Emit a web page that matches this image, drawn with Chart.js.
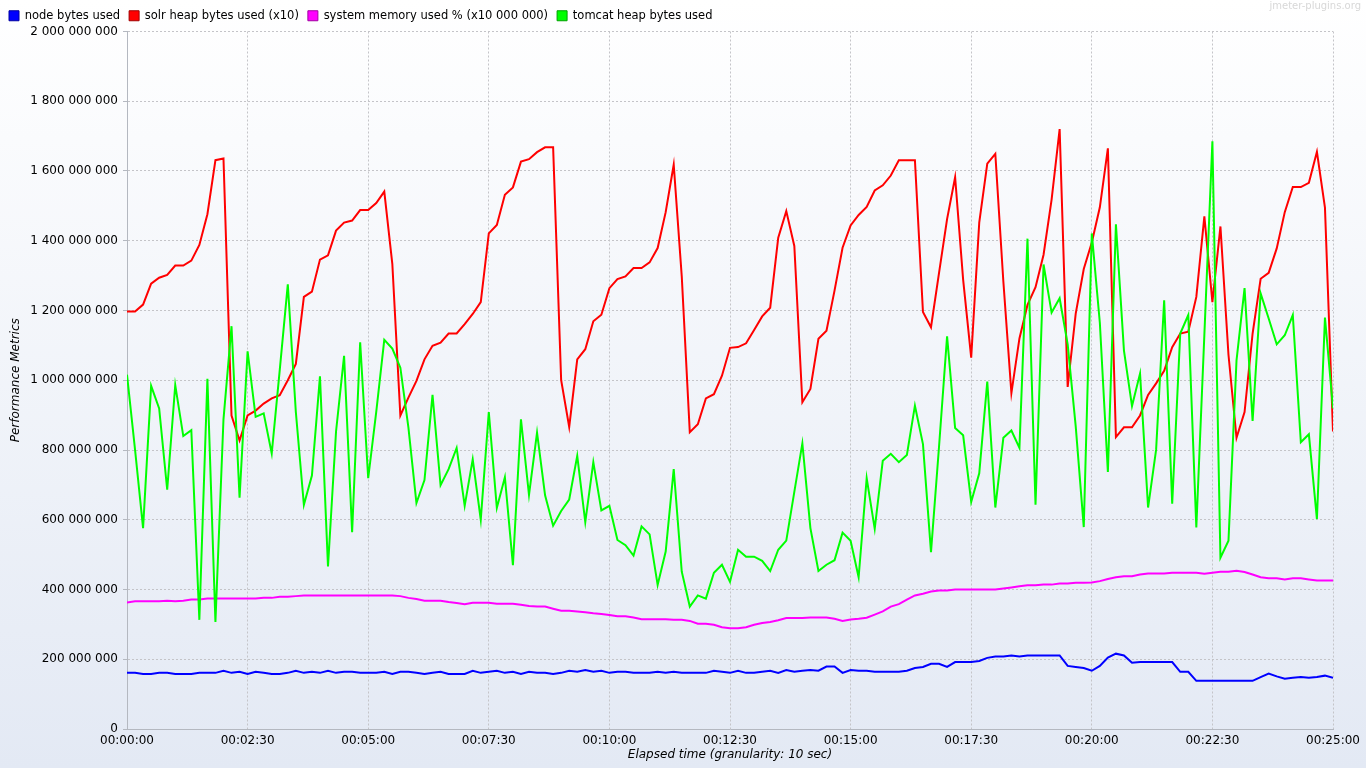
<!DOCTYPE html>
<html>
<head>
<meta charset="utf-8">
<script src="https://cdn.jsdelivr.net/npm/chart.js@4.4.1/dist/chart.umd.min.js"></script>
<style>
  html, body { margin: 0; padding: 0; background: #ffffff; }
  #wrap { width: 1366px; height: 768px; position: relative; }
  canvas { display: block; }
</style>
</head>
<body>
<div id="wrap"><canvas id="c" width="1366" height="768"></canvas></div>
<script>
// ---- DATA (values in millions of bytes; one point every 10 s) ----
const GRANULARITY_SEC = 10;
const VALUE_UNIT = 1000000;

const seriesNames = [
  "node bytes used",
  "solr heap bytes used (x10)",
  "system memory used % (x10 000 000)",
  "tomcat heap bytes used"
];

const nodeBytes = [
  161,161,158,158,161,161,158,158,158,161,161,161,167,161,164,158,164,161,158,158,
  161,167,161,164,161,167,161,164,164,161,161,161,164,158,164,164,161,158,161,164,
  158,158,158,167,161,164,167,161,164,158,164,161,161,158,161,167,164,169,164,167,
  161,164,164,161,161,161,164,161,164,161,161,161,161,167,164,161,167,161,161,164,
  167,161,169,164,167,169,167,179,179,161,169,167,167,164,164,164,164,167,175,178,
  187,187,178,192,192,192,195,204,208,208,211,208,211,211,211,211,211,181,178,175,
  167,181,205,216,211,190,192,192,192,192,192,164,164,138,138,138,138,138,138,138,
  138,149,159,151,144,147,149,147,149,153,147
];

const solrHeap = [
  1197,1197,1217,1277,1294,1302,1329,1329,1343,1388,1476,1631,1636,899,827,899,913,933,948,957,
  1000,1047,1239,1254,1346,1358,1429,1452,1458,1488,1488,1508,1541,1334,899,950,998,1060,1099,1108,
  1134,1134,1161,1190,1224,1421,1445,1532,1553,1627,1634,1654,1668,1668,1000,866,1060,1089,1169,1188,
  1264,1290,1298,1322,1322,1338,1379,1482,1618,1298,851,874,948,960,1013,1093,1095,1106,1144,1183,
  1208,1409,1485,1385,937,975,1119,1142,1257,1380,1444,1474,1497,1544,1559,1587,1631,1631,1631,1196,
  1152,1308,1462,1582,1288,1065,1452,1621,1649,1283,963,1120,1216,1267,1360,1518,1720,981,1191,1319,
  1395,1496,1665,837,865,865,899,958,991,1027,1095,1134,1139,1239,1470,1224,1441,1073,835,909,
  1134,1291,1308,1378,1482,1554,1554,1566,1655,1495,853
];

const systemMem = [
  363,366,366,366,366,368,366,368,371,371,374,374,374,374,374,374,374,376,376,379,
  379,381,383,383,383,383,383,383,383,383,383,383,383,383,381,376,373,368,368,368,
  364,361,358,362,362,362,359,359,359,356,353,351,351,345,339,339,337,335,332,330,
  327,323,323,320,315,315,315,315,313,313,310,302,302,299,292,289,289,292,299,304,
  307,312,318,318,318,320,320,320,316,310,314,316,319,328,337,351,358,371,383,388,
  394,397,397,400,400,400,400,400,400,403,406,409,412,412,414,414,417,417,419,419,
  420,424,430,435,438,438,443,446,446,446,448,448,448,448,445,448,451,451,454,450,
  443,435,432,432,429,432,432,429,426,426,426
];

const tomcatHeap = [
  1016,801,576,984,919,686,986,840,857,313,1004,307,888,1155,663,1083,895,905,790,1030,
  1275,909,643,727,1011,466,853,1070,564,1109,719,909,1116,1091,1036,865,648,714,958,699,
  745,806,640,773,600,909,634,722,470,888,671,850,670,583,625,658,783,593,765,627,
  640,542,527,497,581,558,413,509,745,451,351,383,374,448,471,422,514,494,494,482,
  453,514,540,680,819,576,453,471,484,563,540,435,719,574,769,789,765,786,927,817,
  507,810,1126,863,842,651,733,996,635,835,856,806,1406,643,1332,1194,1235,1103,868,579,
  1421,1165,737,1447,1085,926,1019,635,801,1229,646,1134,1187,578,1130,1685,491,540,1057,1264,
  883,1249,1177,1103,1129,1187,822,845,602,1180,919
];

const seriesColors = ["#0000ff", "#ff0000", "#ff00ff", "#00ff00"];
const legendEdgeColors = ["#0000a0", "#a00000", "#a000a0", "#00a000"];

const yMax = 2000000000;
const yStep = 200000000;
const xMaxSec = 1500;
const xStepSec = 150;

// ---- build chart ----
const allSeries = [nodeBytes, solrHeap, systemMem, tomcatHeap];
const elapsed = nodeBytes.map((_, i) => i * GRANULARITY_SEC);

function fmtSpaces(v) {
  return Math.round(v).toString().replace(/\B(?=(\d{3})+(?!\d))/g, ' ');
}
function fmtTime(sec) {
  const h = Math.floor(sec / 3600), m = Math.floor((sec % 3600) / 60), s = Math.round(sec % 60);
  const p = n => String(n).padStart(2, '0');
  return p(h) + ':' + p(m) + ':' + p(s);
}

const FONT = "'DejaVu Sans', 'Liberation Sans', sans-serif";

const bgPlugin = {
  id: 'bg',
  beforeDraw(chart) {
    const ctx = chart.ctx;
    const g = ctx.createLinearGradient(0, 0, 0, chart.height);
    g.addColorStop(0, '#ffffff');
    g.addColorStop(1, '#e3e9f4');
    ctx.save();
    ctx.fillStyle = g;
    ctx.fillRect(0, 0, chart.width, chart.height);
    ctx.restore();
  },
  afterDraw(chart) {
    const ctx = chart.ctx;
    ctx.save();
    ctx.font = "10px " + FONT;
    ctx.fillStyle = '#d8d8d8';
    ctx.textAlign = 'right';
    ctx.textBaseline = 'top';
    ctx.fillText('jmeter-plugins.org', 1361, 1);
    ctx.restore();
  }
};

const datasets = allSeries.map((arr, k) => ({
  label: seriesNames[k],
  data: arr.map((v, i) => ({ x: elapsed[i], y: v * VALUE_UNIT })),
  borderColor: seriesColors[k],
  backgroundColor: seriesColors[k],
  borderWidth: 2,
  pointRadius: 0,
  tension: 0,
  fill: false,
  order: allSeries.length - 1 - k
}));

new Chart(document.getElementById('c'), {
  type: 'line',
  data: { datasets },
  plugins: [bgPlugin],
  options: {
    responsive: false,
    animation: false,
    devicePixelRatio: 1,
    layout: { padding: { left: 0, right: 33, top: 1, bottom: 0 } },
    plugins: {
      tooltip: { enabled: false },
      legend: {
        position: 'top',
        align: 'start',
        labels: {
          boxWidth: 10,
          boxHeight: 10,
          padding: 9,
          color: '#000000',
          font: { family: FONT, size: 11.5 },
          generateLabels(chart) {
            return chart.data.datasets.map((ds, i) => ({
              text: ds.label,
              fillStyle: seriesColors[i],
              strokeStyle: legendEdgeColors[i],
              lineWidth: 1,
              hidden: false,
              datasetIndex: i,
              fontColor: '#000000'
            }));
          }
        }
      }
    },
    scales: {
      x: {
        type: 'linear',
        min: 0,
        max: xMaxSec,
        afterFit(scale) { scale.height = 39; },
        ticks: {
          stepSize: xStepSec,
          autoSkip: false,
          maxRotation: 0,
          padding: 5,
          color: '#000000',
          font: { family: FONT, size: 12 },
          callback: v => fmtTime(v)
        },
        grid: { color: '#c4c4c8', drawTicks: false, lineWidth: 1 },
        border: { color: '#b4b8c0', width: 1, dash: [2, 2] },
        title: {
          display: true,
          text: 'Elapsed time (granularity: 10 sec)',
          color: '#000000',
          font: { family: FONT, size: 12, style: 'italic' },
          padding: { top: 0, bottom: 6 }
        }
      },
      y: {
        min: 0,
        max: yMax,
        afterFit(scale) { scale.width = 127; },
        ticks: {
          stepSize: yStep,
          padding: 5,
          color: '#000000',
          font: { family: FONT, size: 12 },
          callback: v => fmtSpaces(v)
        },
        grid: { color: '#c4c4c8', tickLength: 4, tickColor: '#b4b8c0', lineWidth: 1 },
        border: { color: '#b4b8c0', width: 1, dash: [2, 2] },
        title: {
          display: true,
          text: 'Performance Metrics',
          color: '#000000',
          font: { family: FONT, size: 12, style: 'italic' },
          padding: { top: 9, bottom: 0 }
        }
      }
    }
  }
});
</script>
</body>
</html>
